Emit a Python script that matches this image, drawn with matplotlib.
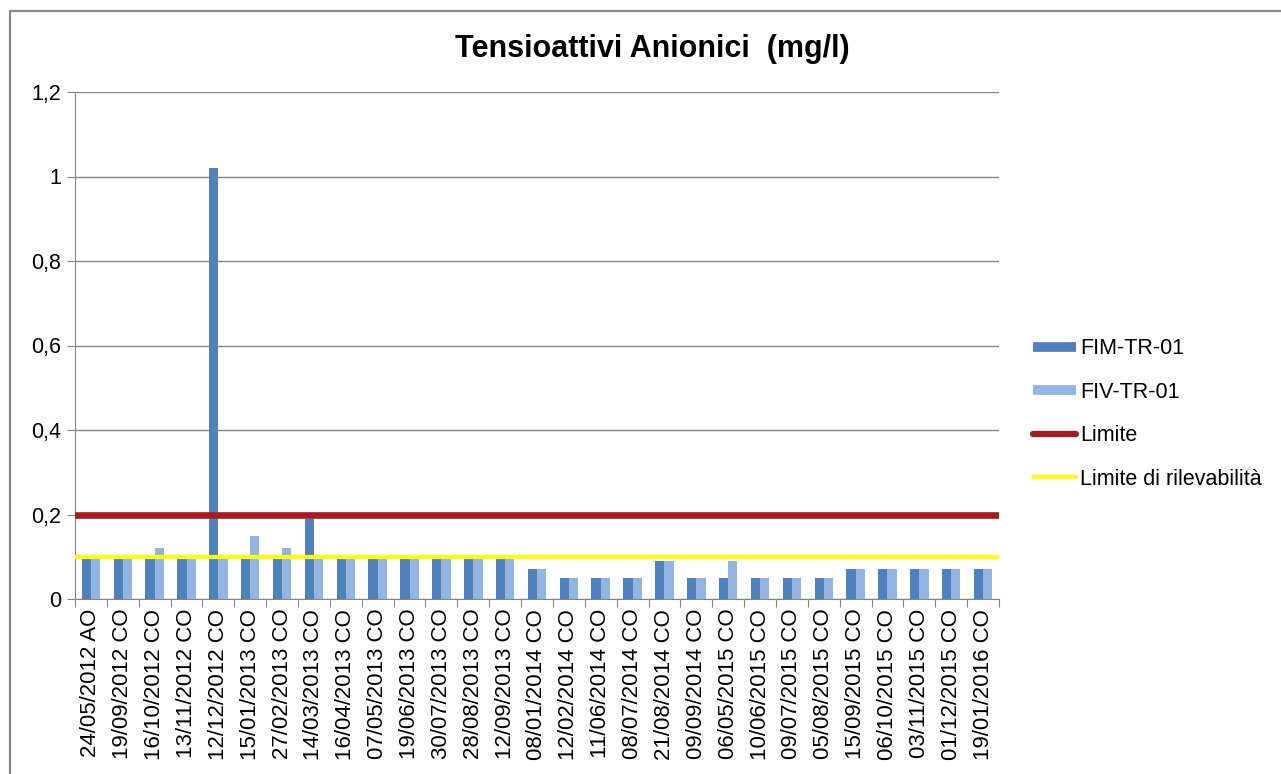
import matplotlib
matplotlib.use('Agg')

import numpy as np
import matplotlib.pyplot as plt
from matplotlib.ticker import FixedLocator, FuncFormatter
from matplotlib.patches import Rectangle
from matplotlib.lines import Line2D

plt.rcParams['font.family'] = ['Liberation Sans', 'DejaVu Sans']

dates = ["24/05/2012 AO", "19/09/2012 CO", "16/10/2012 CO", "13/11/2012 CO",
         "12/12/2012 CO", "15/01/2013 CO", "27/02/2013 CO", "14/03/2013 CO",
         "16/04/2013 CO", "07/05/2013 CO", "19/06/2013 CO", "30/07/2013 CO",
         "28/08/2013 CO", "12/09/2013 CO", "08/01/2014 CO", "12/02/2014 CO",
         "11/06/2014 CO", "08/07/2014 CO", "21/08/2014 CO", "09/09/2014 CO",
         "06/05/2015 CO", "10/06/2015 CO", "09/07/2015 CO", "05/08/2015 CO",
         "15/09/2015 CO", "06/10/2015 CO", "03/11/2015 CO", "01/12/2015 CO",
         "19/01/2016 CO"]
fim = [0.1, 0.1, 0.1, 0.1, 1.02, 0.1, 0.1, 0.19, 0.1, 0.1, 0.1, 0.1, 0.1, 0.1,
       0.07, 0.05, 0.05, 0.05, 0.09, 0.05, 0.05, 0.05, 0.05, 0.05,
       0.07, 0.07, 0.07, 0.07, 0.07]
fiv = [0.1, 0.1, 0.12, 0.1, 0.1, 0.15, 0.12, 0.1, 0.1, 0.1, 0.1, 0.1, 0.1, 0.1,
       0.07, 0.05, 0.05, 0.05, 0.09, 0.05, 0.09, 0.05, 0.05, 0.05,
       0.07, 0.07, 0.07, 0.07, 0.07]
limite = 0.2
limite_ril = 0.1

c_fim = '#4F81BD'
c_fiv = '#93B5E2'
c_lim = '#A61C22'
c_ril = '#FFFF00'

fig = plt.figure(figsize=(12.81, 7.74), dpi=100)
# chart border like excel
fig.patches.append(Rectangle((10 / 1281, -0.01), 1.02, (774 - 11) / 774 + 0.01,
                             transform=fig.transFigure, fill=False,
                             edgecolor='#888888', linewidth=1.6))
ax = fig.add_axes([75 / 1281, (774 - 599) / 774, 924 / 1281, 507 / 774])

n = len(dates)
x = np.arange(n)
w = 0.29
ax.bar(x - w / 2, fim, width=w, color=c_fim, zorder=2)
ax.bar(x + w / 2, fiv, width=w, color=c_fiv, zorder=2)
ax.plot([-0.5, n - 0.5], [limite, limite], color=c_lim, linewidth=4.8, zorder=3)
ax.plot([-0.5, n - 0.5], [limite_ril, limite_ril], color=c_ril, linewidth=3, zorder=3)

ax.set_xlim(-0.5, n - 0.5)
ax.set_ylim(0, 1.2)
yt = np.arange(0, 1.21, 0.2)
ax.set_yticks(yt)
ax.yaxis.set_major_formatter(FuncFormatter(
    lambda v, p: ('%g' % round(v, 1)).replace('.', ',')))
ax.yaxis.grid(True, color='#868686', linewidth=1)
ax.set_axisbelow(True)

ax.xaxis.set_major_locator(FixedLocator(np.arange(-0.5, n, 1.0)))
ax.xaxis.set_major_formatter(FuncFormatter(lambda v, p: ''))
ax.xaxis.set_minor_locator(FixedLocator(x))
ax.set_xticklabels(dates, minor=True, rotation=90, fontsize=16)
ax.tick_params(axis='x', which='minor', length=0, pad=7)
ax.tick_params(axis='x', which='major', length=6, color='#868686')
ax.tick_params(axis='y', length=6, color='#868686', labelsize=15.5, pad=4)

for s in ['top', 'right']:
    ax.spines[s].set_visible(False)
for s in ['left', 'bottom']:
    ax.spines[s].set_color('#868686')

fig.text(652 / 1281, 1 - 49 / 774, "Tensioattivi Anionici  (mg/l)", ha='center',
         va='center', fontsize=22, fontweight='bold')

handles = [Line2D([], [], color=c_fim, linewidth=7, solid_capstyle='butt'),
           Line2D([], [], color=c_fiv, linewidth=7, solid_capstyle='butt'),
           Line2D([], [], color=c_lim, linewidth=4.5, solid_capstyle='round'),
           Line2D([], [], color=c_ril, linewidth=3, solid_capstyle='round')]
fig.legend(handles, ["FIM-TR-01", "FIV-TR-01", "Limite", "Limite di rilevabilità"],
           loc='center left', bbox_to_anchor=(1033 / 1281, 1 - 414 / 774),
           frameon=False, fontsize=15.5, handlelength=2.0, handletextpad=0.2,
           labelspacing=1.05, borderaxespad=0, borderpad=0)

fig.savefig("out.png", dpi=100)
